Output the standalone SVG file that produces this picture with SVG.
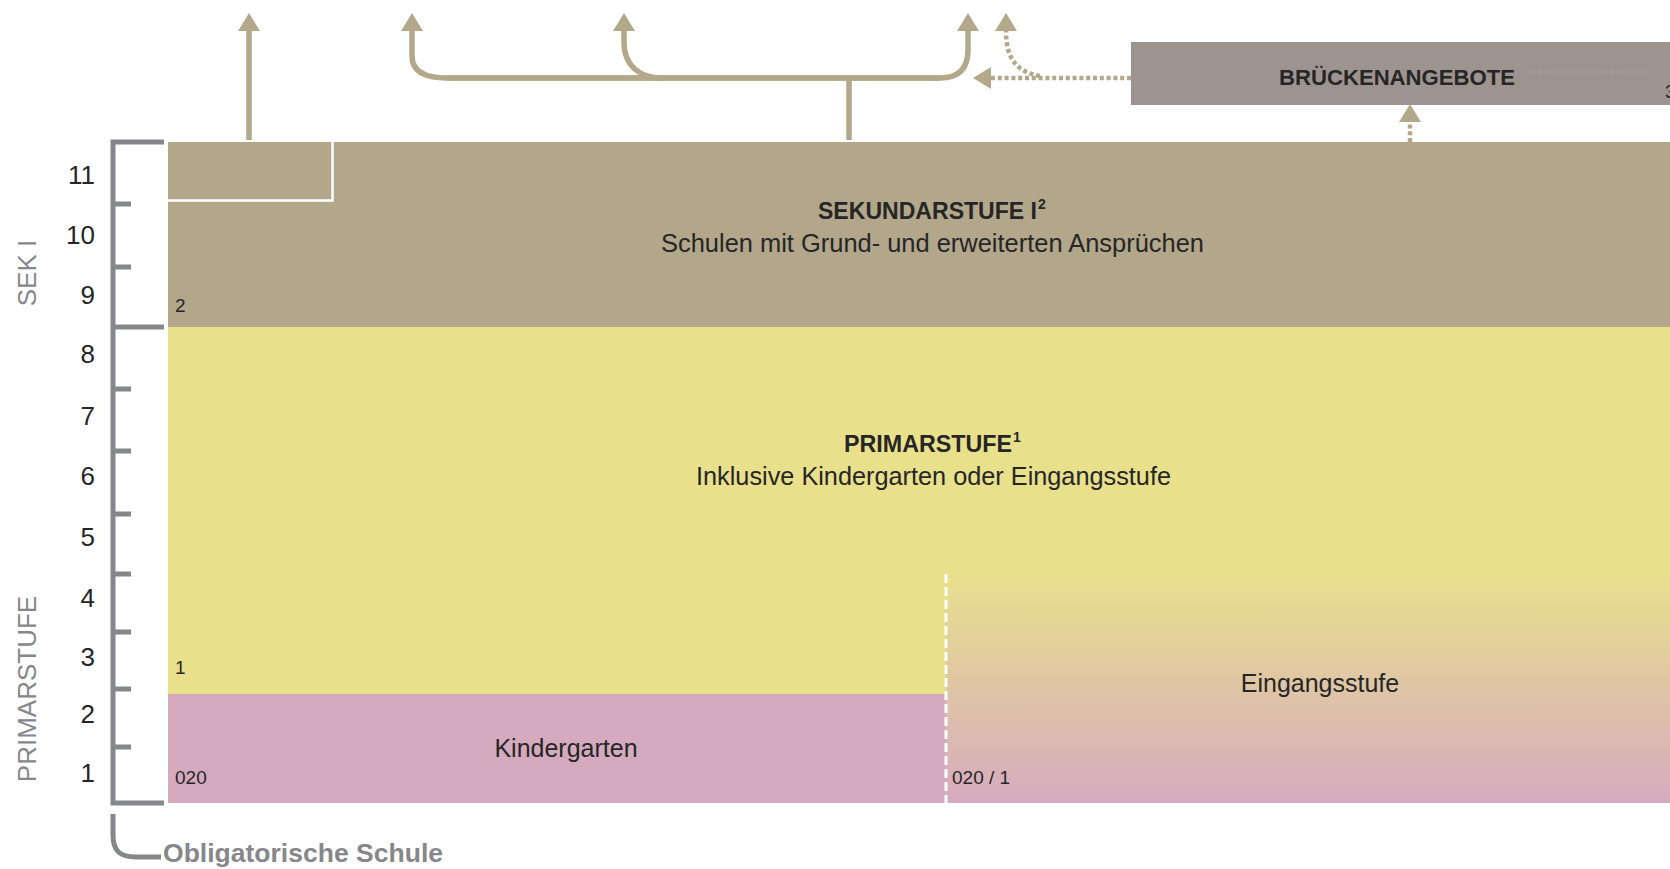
<svg xmlns="http://www.w3.org/2000/svg" width="1670" height="869" viewBox="0 0 1670 869">
<defs>
<style>
.t{font-family:"Liberation Sans",Arial,Helvetica,sans-serif;fill:#262626}
.num{font-size:26px;text-anchor:end}
.side{font-size:26px;fill:#86878a;text-anchor:middle}
.small{font-size:19px}
.title{font-size:23px;font-weight:bold}
.sub{font-size:25px}
.sup{font-size:14px;font-weight:bold}
.axis{stroke:#86878a;stroke-width:5;fill:none}
.arr{stroke:#b3a88a;stroke-width:5.5;fill:none}
.dot{stroke:#b3a88a;stroke-width:4.5;fill:none;stroke-dasharray:4 2.8}
</style>
<marker id="ah" markerUnits="userSpaceOnUse" viewBox="0 0 18 22" refX="0" refY="11" markerWidth="18" markerHeight="22" orient="auto"><path d="M0,0 L18,11 L0,22 Z" fill="#b3a88a"/></marker>
<linearGradient id="eg" x1="0" y1="0" x2="0" y2="1"><stop offset="0" stop-color="#e9e08c"/><stop offset="1" stop-color="#d6aabf"/></linearGradient>
</defs>
<rect width="1670" height="869" fill="#fff"/>

<g id="sekundarstufe">
<rect x="168" y="142" width="1502" height="185" fill="#b2a78a"/>
<polyline points="168,200.5 332.5,200.5 332.5,142" stroke="#fff" stroke-width="2.5" fill="none"/>
<text class="t small" x="175" y="312">2</text>
<text class="t title" x="818" y="219" textLength="219" lengthAdjust="spacingAndGlyphs">SEKUNDARSTUFE I</text>
<text class="t sup" x="1038" y="209">2</text>
<text class="t sub" x="661" y="252" textLength="543" lengthAdjust="spacingAndGlyphs">Schulen mit Grund- und erweiterten Ansprüchen</text>
</g>

<g id="primarstufe">
<rect x="168" y="327" width="1502" height="476" fill="#e9e08c"/>
<text class="t title" x="844" y="452" textLength="168" lengthAdjust="spacingAndGlyphs">PRIMARSTUFE</text>
<text class="t sup" x="1013" y="442">1</text>
<text class="t sub" x="696" y="485" textLength="475" lengthAdjust="spacingAndGlyphs">Inklusive Kindergarten oder Eingangsstufe</text>
<text class="t small" x="175" y="674">1</text>
</g>

<g id="kindergarten">
<rect x="168" y="694" width="778" height="109" fill="#d6aabe"/>
<text class="t sub" x="566" y="757" text-anchor="middle">Kindergarten</text>
<text class="t small" x="175" y="784">020</text>
</g>

<g id="eingangsstufe">
<rect x="946" y="574" width="724" height="229" fill="url(#eg)"/>
<line x1="946" y1="574" x2="946" y2="803" stroke="#fff" stroke-width="3" stroke-dasharray="9 4"/>
<text class="t sub" x="1320" y="692" text-anchor="middle">Eingangsstufe</text>
<text class="t small" x="952" y="784">020 / 1</text>
</g>

<g id="brueckenangebote">
<rect x="1131" y="42" width="539" height="63" fill="#9e948f"/>
<line x1="1528" y1="72" x2="1648" y2="72" stroke="#a29994" stroke-width="3" stroke-dasharray="6 3"/>
<text class="t" x="1397" y="85" text-anchor="middle" font-size="22" font-weight="bold" textLength="236" lengthAdjust="spacingAndGlyphs">BRÜCKENANGEBOTE</text>
<text class="t small" x="1665" y="98">3</text>
</g>

<g id="axis">
<path class="axis" d="M164,142 H113 V803 H164"/>
<path class="axis" d="M113,204 H131 M113,267 H131 M113,327 H164 M113,389 H131 M113,451 H131 M113,514 H131 M113,574 H131 M113,632 H131 M113,689 H131 M113,747 H131"/>
<text class="t num" x="95" y="184">11</text>
<text class="t num" x="95" y="244">10</text>
<text class="t num" x="95" y="304">9</text>
<text class="t num" x="95" y="363">8</text>
<text class="t num" x="95" y="425">7</text>
<text class="t num" x="95" y="485">6</text>
<text class="t num" x="95" y="546">5</text>
<text class="t num" x="95" y="607">4</text>
<text class="t num" x="95" y="666">3</text>
<text class="t num" x="95" y="723">2</text>
<text class="t num" x="95" y="782">1</text>
<text class="t side" transform="translate(36,273) rotate(-90)">SEK I</text>
<text class="t side" transform="translate(36,689) rotate(-90)">PRIMARSTUFE</text>
</g>

<g id="obligatorisch">
<path class="axis" d="M113,814 V835 C113,851 120,857 136,857 H161"/>
<text class="t" x="163" y="862" font-size="26" font-weight="bold" style="fill:#86878a" textLength="280" lengthAdjust="spacingAndGlyphs">Obligatorische Schule</text>
</g>

<g id="connectors">
<path class="arr" d="M249,140 V31" marker-end="url(#ah)"/>
<path class="arr" d="M849,140 V78"/>
<path class="arr" d="M940,78 H447 C424,78 412,71 412,56 V31" marker-end="url(#ah)"/>
<path class="arr" d="M447,78 H940 C957,78 968,70 968,50 V31" marker-end="url(#ah)"/>
<path class="arr" d="M662,78 C640,78 624,66 624,42 V31" marker-end="url(#ah)"/>
<path class="dot" d="M1131,78 H991" marker-end="url(#ah)"/>
<path class="dot" d="M1040,76 C1018,72 1006,60 1006,31" marker-end="url(#ah)"/>
<path class="dot" d="M1410,142 V122" marker-end="url(#ah)"/>
</g>
</svg>
